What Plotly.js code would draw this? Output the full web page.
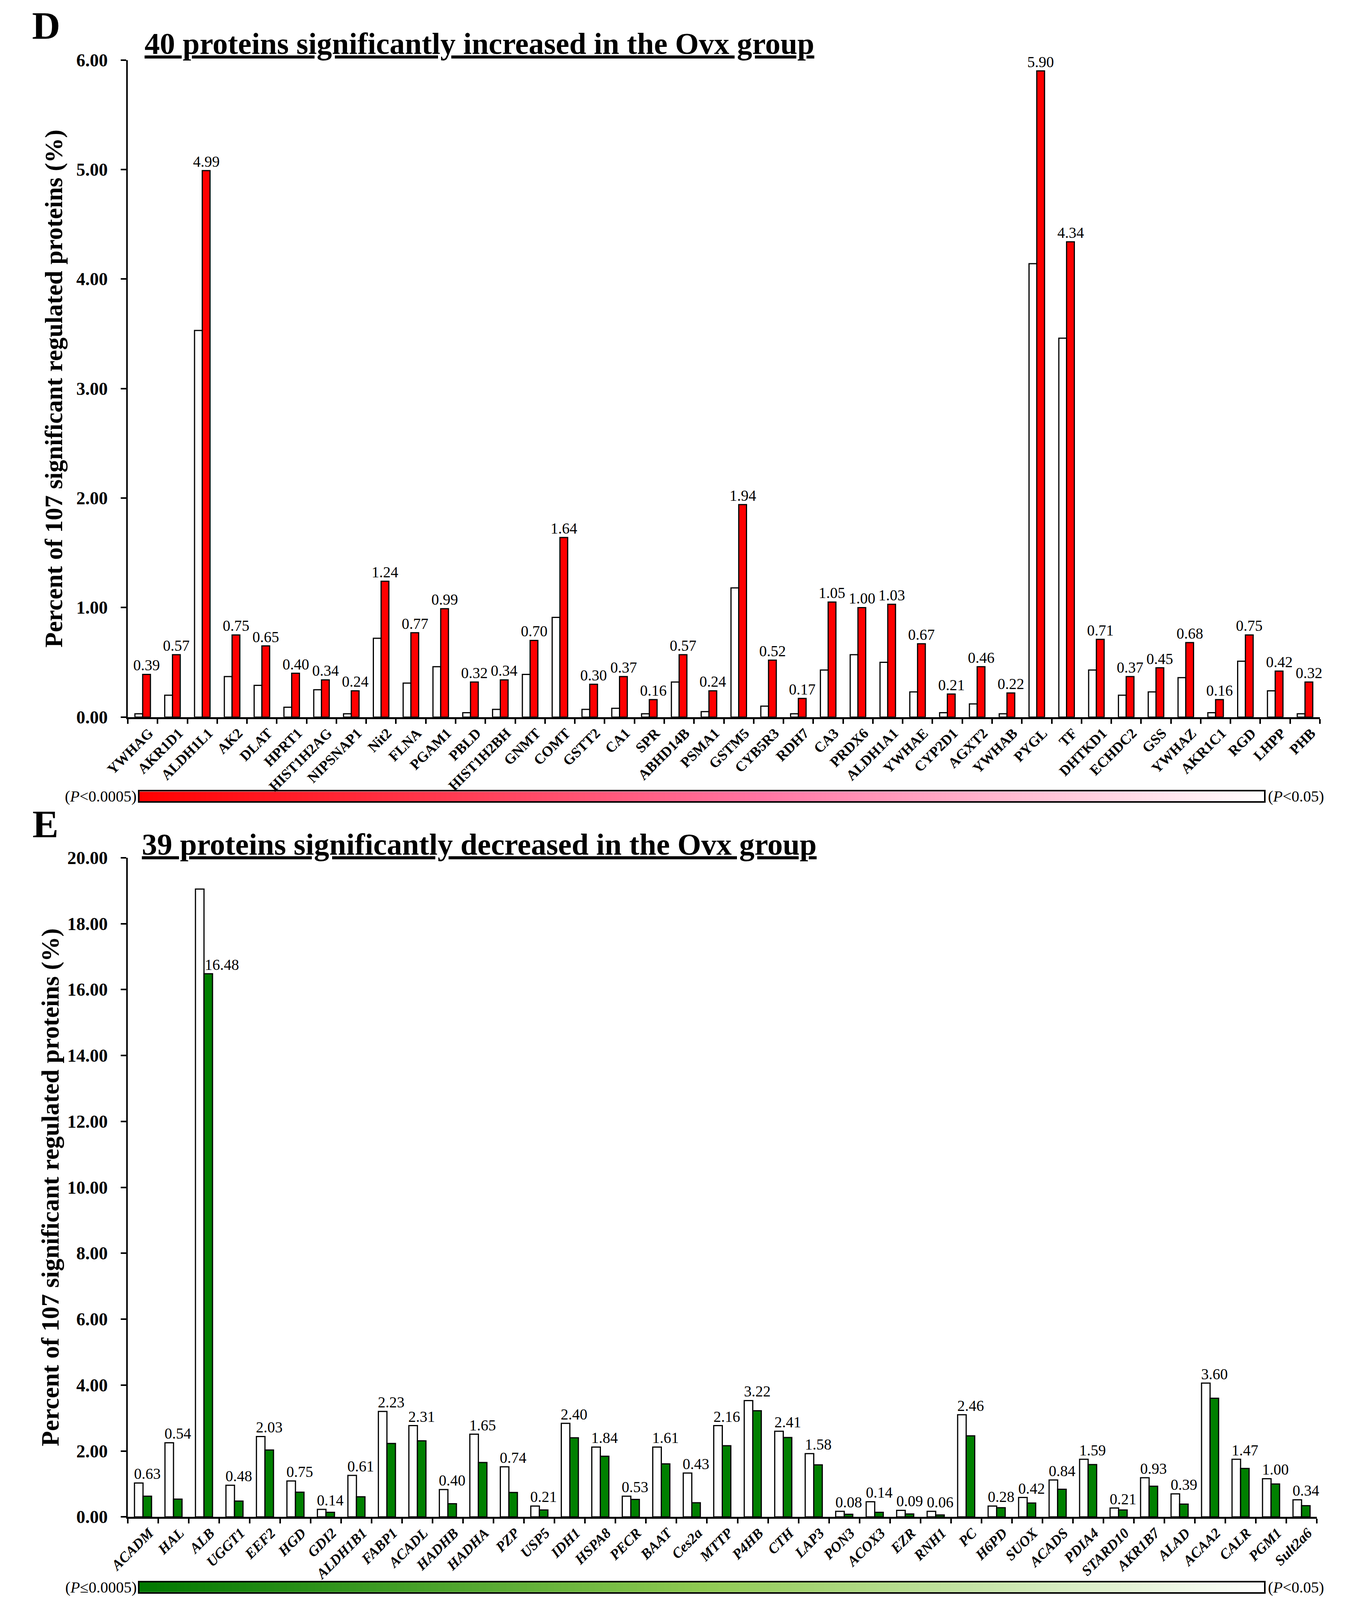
<!DOCTYPE html>
<html>
<head>
<meta charset="utf-8">
<script src="https://cdn.plot.ly/plotly-3.0.1.min.js"></script>
<style>html,body{margin:0;padding:0;background:#fff;overflow:hidden}</style>
</head>
<body>
<div id="chart"></div>
<script>
// reference size; the page is laid out in fractions of it and fitted to the window
const REF_W = 3455, REF_H = 4641;
const W = Math.min(REF_W, window.innerWidth || REF_W);
const H = Math.min(REF_H, window.innerHeight || REF_H);
const FONT = "Liberation Serif, Times New Roman, serif";

// D: proteins increased in Ovx (white = control, red = Ovx)
const upProteins = ["YWHAG", "AKR1D1", "ALDH1L1", "AK2", "DLAT", "HPRT1", "HIST1H2AG", "NIPSNAP1", "Nit2", "FLNA",
    "PGAM1", "PBLD", "HIST1H2BH", "GNMT", "COMT", "GSTT2", "CA1", "SPR", "ABHD14B", "PSMA1",
    "GSTM5", "CYB5R3", "RDH7", "CA3", "PRDX6", "ALDH1A1", "YWHAE", "CYP2D1", "AGXT2", "YWHAB",
    "PYGL", "TF", "DHTKD1", "ECHDC2", "GSS", "YWHAZ", "AKR1C1", "RGD", "LHPP", "PHB"];
const upControl = [0.03, 0.20, 3.53, 0.37, 0.29, 0.09, 0.25, 0.03, 0.72, 0.31,
    0.46, 0.04, 0.07, 0.39, 0.91, 0.07, 0.08, 0.03, 0.32, 0.05,
    1.18, 0.10, 0.03, 0.43, 0.57, 0.50, 0.23, 0.04, 0.12, 0.03,
    4.14, 3.46, 0.43, 0.20, 0.23, 0.36, 0.04, 0.51, 0.24, 0.03];
const upOvx = [0.39, 0.57, 4.99, 0.75, 0.65, 0.40, 0.34, 0.24, 1.24, 0.77,
    0.99, 0.32, 0.34, 0.70, 1.64, 0.30, 0.37, 0.16, 0.57, 0.24,
    1.94, 0.52, 0.17, 1.05, 1.00, 1.03, 0.67, 0.21, 0.46, 0.22,
    5.90, 4.34, 0.71, 0.37, 0.45, 0.68, 0.16, 0.75, 0.42, 0.32];

// E: proteins decreased in Ovx (white = control, green = Ovx)
const downProteins = ["ACADM", "HAL", "ALB", "UGGT1", "EEF2", "HGD", "GDI2", "ALDH1B1", "FABP1", "ACADL",
    "HADHB", "HADHA", "PZP", "USP5", "IDH1", "HSPA8", "PECR", "BAAT", "Ces2a", "MTTP",
    "P4HB", "CTH", "LAP3", "PON3", "ACOX3", "EZR", "RNH1", "PC", "H6PD", "SUOX",
    "ACADS", "PDIA4", "STARD10", "AKR1B7", "ALAD", "ACAA2", "CALR", "PGM1", "Sult2a6"];
const downControl = [1.03, 2.25, 19.05, 0.96, 2.44, 1.09, 0.23, 1.26, 3.20, 2.77,
    0.83, 2.51, 1.52, 0.33, 2.84, 2.12, 0.63, 2.12, 1.33, 2.77,
    3.53, 2.60, 1.92, 0.17, 0.46, 0.20, 0.17, 3.10, 0.33, 0.59,
    1.12, 1.75, 0.27, 1.19, 0.70, 4.06, 1.75, 1.16, 0.52];
const downOvx = [0.63, 0.54, 16.48, 0.48, 2.03, 0.75, 0.14, 0.61, 2.23, 2.31,
    0.40, 1.65, 0.74, 0.21, 2.40, 1.84, 0.53, 1.61, 0.43, 2.16,
    3.22, 2.41, 1.58, 0.08, 0.14, 0.09, 0.06, 2.46, 0.28, 0.42,
    0.84, 1.59, 0.21, 0.93, 0.39, 3.60, 1.47, 1.00, 0.34];

const gradientStops = [0, 1];

const px = x => x / REF_W;
const py = y => 1 - y / REF_H;
const panelD = {x0: 327, x1: 3378, top: 174, bottom: 2080, barTop: 2296, barBottom: 2324};
const panelE = {x0: 327, x1: 3370, top: 2488, bottom: 4400, barTop: 4590, barBottom: 4618};
const GRAD_X = [357, 3235];

function barPair(cats, ctrl, ovx, color, xa, ya, w) {
    const common = {x: cats, type: "bar", xaxis: xa, yaxis: ya, width: w, hoverinfo: "skip"};
    return [
        Object.assign({}, common, {y: ctrl, offset: -w, marker: {color: "#ffffff", line: {color: "#000", width: 3}}}),
        Object.assign({}, common, {y: ovx, offset: 0, marker: {color: color, line: {color: "#000", width: 3}}})
    ];
}

function gradient(scale, xa, ya) {
    return {
        type: "heatmap", xaxis: xa, yaxis: ya,
        x: gradientStops, y: [0, 1], z: [gradientStops, gradientStops],
        zmin: 0, zmax: 1, zsmooth: "best", colorscale: scale,
        showscale: false, hoverinfo: "skip"
    };
}

const redScale = [[0, "#ff0000"], [0.55, "#ff74a2"], [1, "#ffffff"]];
const greenScale = [[0, "#007800"], [0.5, "#8fca52"], [1, "#ffffff"]];

const data = [].concat(
    [gradient(redScale, "x3", "y3"), gradient(greenScale, "x4", "y4")],
    barPair(upProteins, upControl, upOvx, "#ff0000", "x", "y", 0.26),
    barPair(downProteins, downControl, downOvx, "#008000", "x2", "y2", 0.28)
);

function catAxis(p, anchor, n, italic) {
    return {
        domain: [px(p.x0), px(p.x1)], anchor: anchor, type: "category",
        range: [-0.5, n - 0.5], showgrid: false, zeroline: false,
        showline: true, linewidth: 5, linecolor: "#000",
        ticks: "outside", tickson: "boundaries", ticklen: 12, tickwidth: 4, tickcolor: "#000",
        tickangle: -45, ticklabelshift: 16,
        tickfont: {family: FONT, size: 37, color: "#000", weight: "bold", style: italic ? "italic" : "normal"}
    };
}

function valAxis(p, anchor, max, step, standoff) {
    return {
        domain: [py(p.bottom), py(p.top)], anchor: anchor,
        range: [0, max], dtick: step, tickformat: ".2f",
        showgrid: false, zeroline: false,
        showline: true, linewidth: 4, linecolor: "#000",
        ticks: "outside", ticklen: 14, tickwidth: 4, tickcolor: "#000",
        ticklabelstandoff: 24,
        tickfont: {family: FONT, size: 46, color: "#000", weight: "bold"},
        title: {
            text: "Percent of 107 significant regulated proteins (%)",
            font: {family: FONT, size: 64, color: "#000", weight: "bold"},
            standoff: standoff
        }
    };
}

function gradAxes(p, anchorX, anchorY) {
    const box = {showline: true, mirror: true, linewidth: 4, linecolor: "#000",
        showticklabels: false, ticks: "", showgrid: false, zeroline: false, range: [0, 1], fixedrange: true};
    return [
        Object.assign({domain: [px(GRAD_X[0]), px(GRAD_X[1])], anchor: anchorY}, box),
        Object.assign({domain: [py(p.barBottom), py(p.barTop)], anchor: anchorX}, box)
    ];
}

const annotations = [];
const valFont = {family: FONT, size: 39, color: "#000"};

upProteins.forEach((p, i) => {
    annotations.push({xref: "x", yref: "y", x: p, y: upOvx[i], text: upOvx[i].toFixed(2),
        showarrow: false, yanchor: "bottom", xshift: 10, yshift: 0, font: valFont});
});

// labels sit above the taller bar, except where the white bar towers over the green one
downProteins.forEach((p, i) => {
    const far = downControl[i] - downOvx[i] > 2;
    annotations.push({xref: "x2", yref: "y2", x: p,
        y: far ? downOvx[i] : Math.max(downControl[i], downOvx[i]),
        text: downOvx[i].toFixed(2), showarrow: false, yanchor: "bottom",
        xanchor: far ? "left" : "center", xshift: far ? 0 : 11, yshift: 0, font: valFont});
});

const titleFont = {family: FONT, size: 78, color: "#000", weight: "bold"};
const letterFont = {family: FONT, size: 100, color: "#000", weight: "bold"};
const pFont = {family: FONT, size: 40, color: "#000"};
const midD = (panelD.barTop + panelD.barBottom) / 2;
const midE = (panelE.barTop + panelE.barBottom) / 2;

annotations.push(
    {xref: "paper", yref: "paper", x: px(80), y: py(74), xanchor: "left", yanchor: "middle",
        text: "D", showarrow: false, font: letterFont},
    {xref: "paper", yref: "paper", x: px(368), y: py(126), xanchor: "left", yanchor: "middle",
        text: "<u>40 proteins significantly increased in the Ovx group</u>", showarrow: false, font: titleFont},
    {xref: "paper", yref: "paper", x: px(81), y: py(2390), xanchor: "left", yanchor: "middle",
        text: "E", showarrow: false, font: letterFont},
    {xref: "paper", yref: "paper", x: px(361), y: py(2449), xanchor: "left", yanchor: "middle",
        text: "<u>39 proteins significantly decreased in the Ovx group</u>", showarrow: false, font: titleFont},
    {xref: "paper", yref: "paper", x: px(352), y: py(midD), xanchor: "right", yanchor: "middle",
        text: "(<i>P</i>&lt;0.0005)", showarrow: false, font: pFont},
    {xref: "paper", yref: "paper", x: px(3243), y: py(midD), xanchor: "left", yanchor: "middle",
        text: "(<i>P</i>&lt;0.05)", showarrow: false, font: pFont},
    {xref: "paper", yref: "paper", x: px(352), y: py(midE), xanchor: "right", yanchor: "middle",
        text: "(<i>P</i>≤0.0005)", showarrow: false, font: pFont},
    {xref: "paper", yref: "paper", x: px(3243), y: py(midE), xanchor: "left", yanchor: "middle",
        text: "(<i>P</i>&lt;0.05)", showarrow: false, font: pFont}
);

const [x3, y3] = gradAxes(panelD, "x3", "y3");
const [x4, y4] = gradAxes(panelE, "x4", "y4");

const layout = {
    width: W, height: H,
    margin: {l: 0, r: 0, t: 0, b: 0},
    paper_bgcolor: "#ffffff", plot_bgcolor: "rgba(0,0,0,0)",
    showlegend: false, barmode: "overlay",
    font: {family: FONT, color: "#000"},
    xaxis: catAxis(panelD, "y", upProteins.length, false),
    yaxis: valAxis(panelD, "x", 6, 1, 16),
    xaxis2: catAxis(panelE, "y2", downProteins.length, true),
    yaxis2: valAxis(panelE, "x2", 20, 2, 2),
    xaxis3: x3, yaxis3: y3,
    xaxis4: x4, yaxis4: y4,
    annotations: annotations
};

Plotly.newPlot("chart", data, layout, {displayModeBar: false, staticPlot: true});
</script>
</body>
</html>
